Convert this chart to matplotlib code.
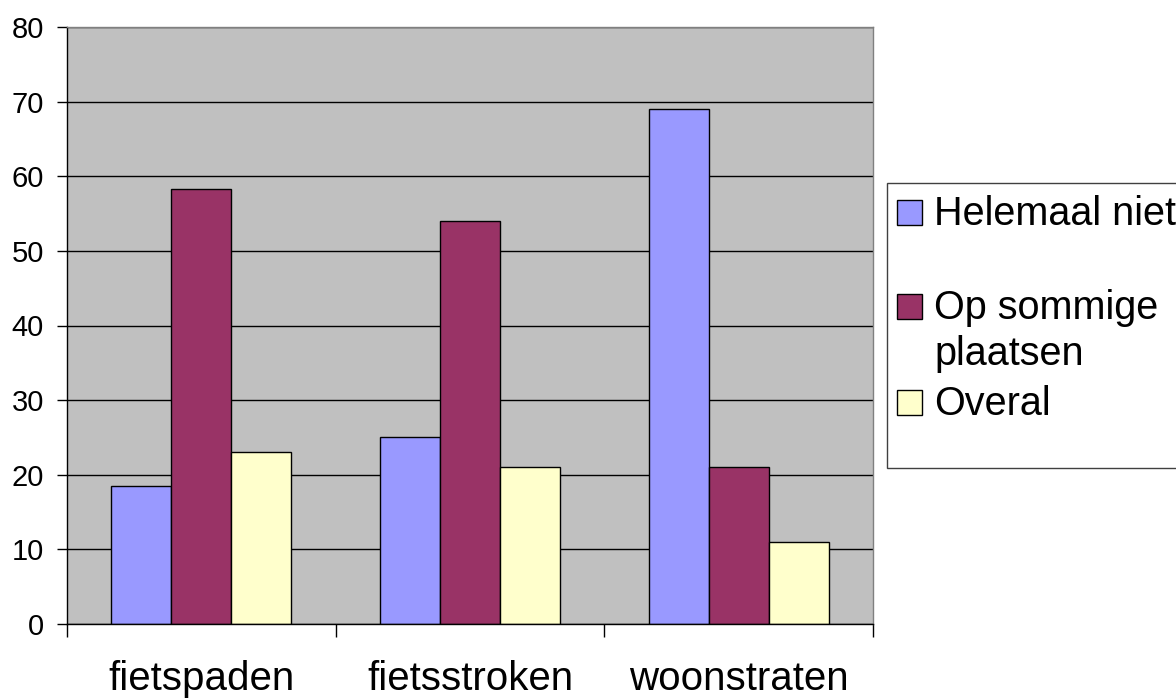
import matplotlib.pyplot as plt
from matplotlib.patches import Rectangle
import numpy as np

plt.rcParams["font.family"] = ["Liberation Sans", "DejaVu Sans"]

categories = ["fietspaden", "fietsstroken", "woonstraten"]
series_names = ["Helemaal niet", "Op sommige\nplaatsen", "Overal"]
helemaal_niet = [18.5, 25, 69]
op_sommige_plaatsen = [58.3, 54, 21]
overal = [23, 21, 11]
series_values = [helemaal_niet, op_sommige_plaatsen, overal]
colors = ["#9999FF", "#993366", "#FFFFCC"]
y_ticks = [0, 10, 20, 30, 40, 50, 60, 70, 80]

W, H = 1176, 700
fig = plt.figure(figsize=(W / 100, H / 100), dpi=100)
ax = fig.add_axes([67 / W, 1 - 624 / H, (873 - 67) / W, (624 - 27) / H])
ax.set_facecolor("#C0C0C0")

x = np.arange(len(categories))
width = 0.223
for idx, values in enumerate(series_values):
    ax.bar(x + (idx - 1) * width, values, width=width, color=colors[idx],
           edgecolor="black", linewidth=1, zorder=3)

ax.set_xlim(-0.5, len(categories) - 0.5)
ax.set_ylim(0, 80)
ax.set_yticks(y_ticks)
ax.tick_params(axis="y", labelsize=21, length=7.5, width=1, pad=9, direction="out")
ax.grid(axis="y", color="black", linewidth=1, zorder=1)

# category ticks sit on the group boundaries, labels centred below
ax.set_xticks(np.arange(len(categories) + 1) - 0.5)
ax.set_xticklabels([])
ax.set_xticks(x, minor=True)
ax.set_xticklabels(categories, minor=True, fontsize=29)
ax.tick_params(axis="x", which="major", length=9, width=1, direction="out")
ax.tick_params(axis="x", which="minor", length=0, pad=26)

for side in ["left", "bottom"]:
    ax.spines[side].set_color("black")
for side in ["top", "right"]:
    ax.spines[side].set_color("#808080")
for spine in ax.spines.values():
    spine.set_linewidth(1)
    spine.set_zorder(4)


def fx(px):
    return px / W


def fy(py):
    return 1 - py / H


# legend drawn by hand to keep the uneven row spacing of the original
fig.add_artist(Rectangle((fx(887), fy(468)), fx(1200) - fx(887), fy(183) - fy(468),
                         transform=fig.transFigure, facecolor="white",
                         edgecolor="#404040", linewidth=1))
baselines = [225, 319, 415]
for name, color, base in zip(series_names, colors, baselines):
    fig.add_artist(Rectangle((fx(897), fy(base)), fx(25), 25 / H,
                             transform=fig.transFigure, facecolor=color,
                             edgecolor="black", linewidth=1))
    fig.text(fx(934), fy(base), name.split("\n")[0], fontsize=28.5, va="baseline", ha="left")
    if "\n" in name:
        fig.text(fx(934), fy(base + 46), name.split("\n")[1], fontsize=28.5,
                 va="baseline", ha="left")

fig.savefig("out.png", dpi=100)
